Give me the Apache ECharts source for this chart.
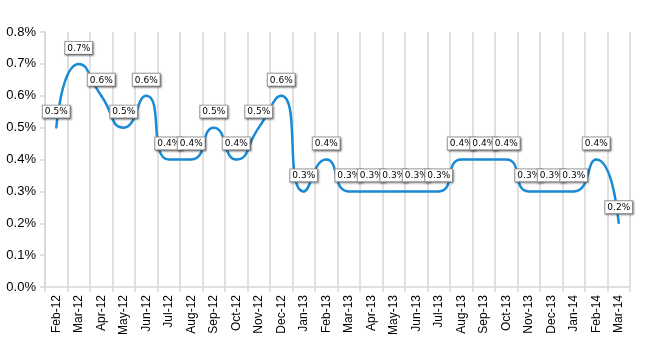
<!DOCTYPE html>
<html>
<head>
<meta charset="utf-8">
<script src="https://cdn.jsdelivr.net/npm/echarts@6/dist/echarts.min.js"></script>
<style>
  html, body { margin: 0; padding: 0; background: #fff; }
  #chart { width: 650px; height: 350px; }
</style>
</head>
<body>
<div id="chart"></div>
<script>
// months on the x axis
var months = ['Feb-12', 'Mar-12', 'Apr-12', 'May-12', 'Jun-12', 'Jul-12', 'Aug-12', 'Sep-12',
  'Oct-12', 'Nov-12', 'Dec-12', 'Jan-13', 'Feb-13', 'Mar-13', 'Apr-13', 'May-13', 'Jun-13',
  'Jul-13', 'Aug-13', 'Sep-13', 'Oct-13', 'Nov-13', 'Dec-13', 'Jan-14', 'Feb-14', 'Mar-14'];
// rate in percent
var rates = [0.5, 0.7, 0.6, 0.5, 0.6, 0.4, 0.4, 0.5, 0.4, 0.5, 0.6, 0.3, 0.4, 0.3, 0.3, 0.3,
  0.3, 0.3, 0.4, 0.4, 0.4, 0.3, 0.3, 0.3, 0.4, 0.2];

var chart = echarts.init(document.getElementById('chart'));
var gridColor = '#d6d6d6';
var lineColor = '#1a8ad4';

var option = {
  animation: false,
  backgroundColor: '#fff',
  grid: {
    left: 45,
    right: 20,
    top: 32,
    bottom: 63
  },
  xAxis: {
    type: 'category',
    data: months,
    boundaryGap: true,
    axisLine: { show: true, lineStyle: { color: gridColor, width: 1.5 } },
    axisTick: { show: true, length: 5, lineStyle: { color: gridColor, width: 1.5 } },
    splitLine: { show: true, lineStyle: { color: gridColor, width: 1.5 } },
    axisLabel: {
      rotate: 90,
      interval: 0,
      color: '#000',
      fontFamily: 'Liberation Sans',
      fontSize: 12,
      margin: 8
    }
  },
  yAxis: {
    type: 'value',
    min: 0,
    max: 0.8,
    interval: 0.1,
    axisLine: { show: true, lineStyle: { color: gridColor, width: 1.5 } },
    axisTick: { show: true, length: 5, lineStyle: { color: gridColor, width: 1.5 } },
    splitLine: { show: false },
    axisLabel: {
      color: '#000',
      fontFamily: 'Liberation Sans',
      fontSize: 13,
      margin: 9,
      formatter: function (v) { return v.toFixed(1) + '%'; }
    }
  },
  series: [{
    type: 'line',
    data: rates,
    smooth: 0.6,
    symbol: 'circle',
    symbolSize: 2,
    showSymbol: true,
    itemStyle: { color: lineColor },
    lineStyle: { color: lineColor, width: 2.5 },
    label: {
      show: true,
      position: 'top',
      distance: 9,
      formatter: function (p) { return p.value.toFixed(1) + '%'; },
      color: '#000',
      fontFamily: 'DejaVu Sans',
      fontSize: 9,
      backgroundColor: '#fff',
      borderColor: '#9a9a9a',
      borderWidth: 1,
      padding: [2, 2, 1, 2],
      shadowColor: 'rgba(0,0,0,0.35)',
      shadowBlur: 2,
      shadowOffsetX: 1,
      shadowOffsetY: 1
    }
  }]
};

chart.setOption(option);
</script>
</body>
</html>
